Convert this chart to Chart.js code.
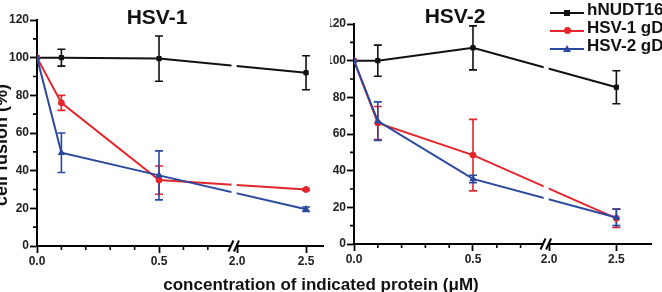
<!DOCTYPE html>
<html>
<head>
<meta charset="utf-8">
<script src="https://cdn.jsdelivr.net/npm/chart.js"></script>
<style>
  body { margin: 0; background: #fff; width: 662px; height: 292px; overflow: hidden; position: relative;
         font-family: "Liberation Sans", Arial, sans-serif; font-weight: bold; color: #111; }
  canvas { position: absolute; top: 0; }
  .txt { position: absolute; white-space: nowrap; }
  .ttl { font-size: 21px; line-height: 24px; text-align: center; width: 120px; }
  .leg { position: absolute; left: 550px; font-size: 17px; line-height: 20px; height: 20px; white-space: nowrap; }
  .leg .ln { position: absolute; left: 0; width: 34px; height: 0; border-top: 2px solid; }
  .leg .mk { position: absolute; }
  .leg .lab { position: absolute; left: 37px; top: 0; }
</style>
</head>
<body>
<canvas id="c1" width="330" height="292" style="left:0"></canvas>
<canvas id="c2" width="332" height="292" style="left:330px"></canvas>

<div class="txt ttl" style="left:97px;top:5px">HSV-1</div>
<div class="txt ttl" style="left:395px;top:4px">HSV-2</div>
<div class="txt" style="left:1px;top:145px;font-size:18px;line-height:18px;transform:translate(-50%,-50%) rotate(-90deg)">cell fusion (%)</div>
<div class="txt" style="left:321px;top:275px;font-size:17px;line-height:20px;transform:translateX(-50%)">concentration of indicated protein (μM)</div>
<div id="legend"></div>

<script>
// setup
const conc = [0, 0.1, 0.5, 2.5];                 // µM
const xTickVals = [0, 0.5, 2.0, 2.5];
const xTickLabels = ['0.0', '0.5', '2.0', '2.5'];
const xMinorVals = [0.1, 0.2, 0.3, 0.4, 0.6, 0.7];
const yMinorVals = [10, 30, 50, 70, 90, 110];
const seriesNames = ['hNUDT16', 'HSV-1 gD', 'HSV-2 gD'];
const colors = ['#111111', '#e4262c', '#2a48a0'];
const pointStyles = ['rect', 'circle', 'triangle'];

// HSV-1 panel
const hsv1Nudt = [100, 100, 99.5, 92];
const hsv1NudtErr = [0, 4.5, 12, 9];
const hsv1Gd1 = [100, 76, 35, 30];
const hsv1Gd1Err = [0, 4, 7.5, 0.5];
const hsv1Gd2 = [100, 49.5, 37.5, 19.5];
const hsv1Gd2Err = [0, 10.5, 13, 1.2];

// HSV-2 panel
const hsv2Nudt = [100, 100, 107, 85.5];
const hsv2NudtErr = [0, 8.5, 12, 9];
const hsv2Gd1 = [100, 66, 48.5, 14];
const hsv2Gd1Err = [0, 9, 19.5, 5];
const hsv2Gd2 = [100, 67, 35.5, 14.5];
const hsv2Gd2Err = [0, 10.5, 2, 4.5];

// broken axis: 0..0.8 kept, 2.0.. squeezed after the break
const xt = v => v <= 1 ? v : 0.82 + (v - 2) * 0.565;
const BREAK = 0.806;

const font = { family: 'Liberation Sans', weight: 'bold', size: 12 };

const extras = {
  id: 'extras',
  beforeDatasetsDraw(chart) {
    const { ctx, scales: { y } } = chart;
    ctx.save();
    ctx.lineWidth = 1.6;
    chart.data.datasets.forEach((ds, i) => {
      const meta = chart.getDatasetMeta(i);
      ctx.strokeStyle = ds.borderColor;
      ds.err.forEach((e, j) => {
        if (!e) return;
        const px = meta.data[j].x;
        const yt = y.getPixelForValue(ds.data[j].y + e);
        const yb = y.getPixelForValue(ds.data[j].y - e);
        ctx.beginPath();
        ctx.moveTo(px, yt); ctx.lineTo(px, yb);
        ctx.moveTo(px - 4, yt); ctx.lineTo(px + 4, yt);
        ctx.moveTo(px - 4, yb); ctx.lineTo(px + 4, yb);
        ctx.stroke();
      });
    });
    ctx.restore();
  },
  afterDatasetsDraw(chart) {
    const { ctx, chartArea: a, scales: { x } } = chart;
    // white gap in the lines at the break
    const g0 = x.getPixelForValue(0.797), g1 = x.getPixelForValue(0.818);
    ctx.save();
    ctx.fillStyle = '#fff';
    ctx.fillRect(g0, a.top, g1 - g0, a.bottom - a.top - 1.5);
    ctx.restore();
  },
  afterDraw(chart) {
    const { ctx, chartArea: a, scales: { x, y } } = chart;
    ctx.save();
    ctx.strokeStyle = '#000';
    ctx.lineWidth = 1.6;
    // minor ticks
    ctx.beginPath();
    xMinorVals.forEach(v => {
      const px = x.getPixelForValue(v);
      ctx.moveTo(px, a.bottom); ctx.lineTo(px, a.bottom + 4);
    });
    yMinorVals.forEach(v => {
      const py = y.getPixelForValue(v);
      ctx.moveTo(a.left, py); ctx.lineTo(a.left - 4, py);
    });
    ctx.stroke();
    // break marks //
    const bx = x.getPixelForValue(BREAK), by = a.bottom;
    ctx.fillStyle = '#fff';
    ctx.fillRect(bx - 3, by - 2, 6, 4);
    ctx.lineWidth = 2;
    [-2.8, 2.8].forEach(d => {
      ctx.beginPath();
      ctx.moveTo(bx + d - 2.5, by + 5.5);
      ctx.lineTo(bx + d + 2.5, by - 5.5);
      ctx.stroke();
    });
    ctx.restore();
  }
};

function makeSet(i, vals, err) {
  return {
    label: seriesNames[i],
    data: conc.map((c, j) => ({ x: xt(c), y: vals[j] })),
    err: err,
    borderColor: colors[i],
    backgroundColor: colors[i],
    borderWidth: 2,
    pointStyle: pointStyles[i],
    pointRadius: i === 2 ? 3.5 : 3,
    pointBorderWidth: 1,
    tension: 0,
    order: 2 - i
  };
}

function makeChart(id, sets, xmax, pad, yWidth, xHeight) {
  return new Chart(document.getElementById(id), {
    type: 'line',
    data: { datasets: sets },
    options: {
      responsive: false,
      animation: false,
      layout: { padding: pad },
      plugins: { legend: { display: false }, tooltip: { enabled: false } },
      scales: {
        x: {
          type: 'linear', min: 0, max: xmax,
          afterFit: s => { s.height = xHeight; },
          afterBuildTicks: s => { s.ticks = xTickVals.map(v => ({ value: xt(v) })); },
          ticks: { autoSkip: false, maxRotation: 0, padding: 1, color: '#222', font,
                   callback: (v, i) => xTickLabels[i] },
          grid: { drawOnChartArea: false, tickLength: 7, tickWidth: 1.8, tickColor: '#000' },
          border: { color: '#000', width: 2 }
        },
        y: {
          min: 0, max: 120,
          afterFit: s => { s.width = yWidth; },
          ticks: { stepSize: 20, padding: 1, color: '#222', font },
          grid: { drawOnChartArea: false, tickLength: 7, tickWidth: 1.8, tickColor: '#000' },
          border: { color: '#000', width: 2 }
        }
      }
    },
    plugins: [extras]
  });
}

makeChart('c1', [
  makeSet(0, hsv1Nudt, hsv1NudtErr),
  makeSet(1, hsv1Gd1, hsv1Gd1Err),
  makeSet(2, hsv1Gd2, hsv1Gd2Err)
], 1.172, { left: 0, right: 7, top: 20, bottom: 0 }, 37, 46);

makeChart('c2', [
  makeSet(0, hsv2Nudt, hsv2NudtErr),
  makeSet(1, hsv2Gd1, hsv2Gd1Err),
  makeSet(2, hsv2Gd2, hsv2Gd2Err)
], 1.248, { left: 0, right: 11, top: 24, bottom: 0 }, 24, 48);

// legend (top right, over the HSV-2 panel)
const legTops = [0, 17.5, 36];
const legLineY = [13.3, 30.7, 49];
const legend = document.getElementById('legend');
seriesNames.forEach((name, i) => {
  const row = document.createElement('div');
  row.className = 'leg';
  row.style.top = legTops[i] + 'px';
  const ly = legLineY[i] - legTops[i];
  let mk;
  if (i === 0) mk = `<span class="mk" style="left:14px;top:${ly - 3}px;width:6px;height:6px;background:${colors[i]}"></span>`;
  else if (i === 1) mk = `<span class="mk" style="left:13.5px;top:${ly - 3.5}px;width:7px;height:7px;border-radius:50%;background:${colors[i]}"></span>`;
  else mk = `<span class="mk" style="left:13px;top:${ly - 4.5}px;width:0;height:0;border-left:4px solid transparent;border-right:4px solid transparent;border-bottom:7px solid ${colors[i]}"></span>`;
  row.innerHTML = `<span class="ln" style="top:${ly - 1}px;border-color:${colors[i]}"></span>${mk}<span class="lab">${name}</span>`;
  legend.appendChild(row);
});
</script>
</body>
</html>
